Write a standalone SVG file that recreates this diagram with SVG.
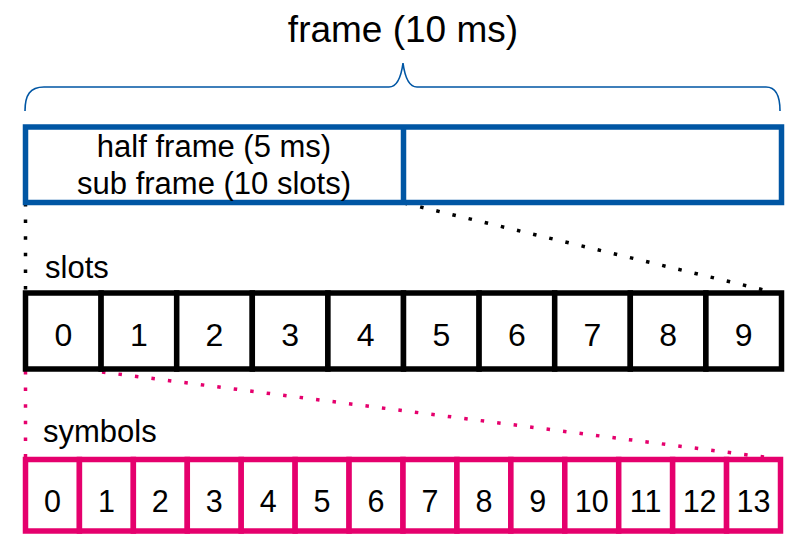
<svg xmlns="http://www.w3.org/2000/svg" width="795" height="536" viewBox="0 0 795 536">
  <style>
    text { font-family: "Liberation Sans", Arial, sans-serif; fill: #000; }
    .title { font-size: 37px; text-anchor: middle; }
    .lbl { font-size: 31px; }
    .mid { font-size: 31px; text-anchor: middle; }
    .slotnum { font-size: 32px; text-anchor: middle; }
    .symnum { font-size: 30.5px; text-anchor: middle; }
    .frame { fill: #fff; stroke: #0056A4; stroke-width: 5.5; }
    .slot { fill: #fff; stroke: #000; stroke-width: 5.5; }
    .sym { fill: #fff; stroke: #E5006D; stroke-width: 5.5; }
    .dotk { stroke: #000; stroke-width: 3.5; stroke-dasharray: 3.5 13.1; fill: none; }
    .dotp { stroke: #E5006D; stroke-width: 3.5; stroke-dasharray: 3.5 13.1; fill: none; }
  </style>

  <!-- frame title and brace -->
  <g id="frame-title">
    <text class="title" x="403" y="42">frame (10 ms)</text>
    <path d="M25,111 C25,95 30,87 44,87 L389,87 C397,87 401,78 403,63 C405,78 409,87 417,87 L766,87 C776,87 780,95 780,111" fill="none" stroke="#0056A4" stroke-width="1.6"/>
  </g>

  <!-- connectors between rows -->
  <g id="connectors">
    <line class="dotk" x1="25.5" y1="203" x2="25.5" y2="291"/>
    <line class="dotk" x1="404" y1="203" x2="764" y2="290"/>
    <line class="dotp" x1="25.5" y1="371" x2="25.5" y2="457"/>
    <line class="dotp" x1="102" y1="372" x2="764" y2="457"/>
  </g>

  <!-- frame split into two half frames -->
  <g id="frame">
    <rect class="frame" x="25.5" y="127" width="756" height="75.5"/>
    <line x1="403.5" y1="127" x2="403.5" y2="202.5" stroke="#0056A4" stroke-width="5.5"/>
    <text class="mid" x="214" y="157">half frame (5 ms)</text>
    <text class="mid" x="214" y="194">sub frame (10 slots)</text>
  </g>

  <!-- slots row -->
  <g id="slots">
    <text class="lbl" x="45" y="278">slots</text>
    <rect class="slot" x="25.5" y="293" width="75.6" height="76"/>
    <rect class="slot" x="101.1" y="293" width="75.6" height="76"/>
    <rect class="slot" x="176.7" y="293" width="75.6" height="76"/>
    <rect class="slot" x="252.3" y="293" width="75.6" height="76"/>
    <rect class="slot" x="327.9" y="293" width="75.6" height="76"/>
    <rect class="slot" x="403.5" y="293" width="75.6" height="76"/>
    <rect class="slot" x="479.1" y="293" width="75.6" height="76"/>
    <rect class="slot" x="554.7" y="293" width="75.6" height="76"/>
    <rect class="slot" x="630.3" y="293" width="75.6" height="76"/>
    <rect class="slot" x="705.9" y="293" width="75.6" height="76"/>
    <text class="slotnum" x="63.3" y="346">0</text>
    <text class="slotnum" x="138.9" y="346">1</text>
    <text class="slotnum" x="214.5" y="346">2</text>
    <text class="slotnum" x="290.1" y="346">3</text>
    <text class="slotnum" x="365.7" y="346">4</text>
    <text class="slotnum" x="441.3" y="346">5</text>
    <text class="slotnum" x="516.9" y="346">6</text>
    <text class="slotnum" x="592.5" y="346">7</text>
    <text class="slotnum" x="668.1" y="346">8</text>
    <text class="slotnum" x="743.7" y="346">9</text>
  </g>

  <!-- symbols row -->
  <g id="symbols">
    <text class="lbl" x="43" y="442">symbols</text>
    <rect class="sym" x="25.5" y="459.5" width="53.93" height="71.5"/>
    <rect class="sym" x="79.43" y="459.5" width="53.93" height="71.5"/>
    <rect class="sym" x="133.36" y="459.5" width="53.93" height="71.5"/>
    <rect class="sym" x="187.29" y="459.5" width="53.93" height="71.5"/>
    <rect class="sym" x="241.21" y="459.5" width="53.93" height="71.5"/>
    <rect class="sym" x="295.14" y="459.5" width="53.93" height="71.5"/>
    <rect class="sym" x="349.07" y="459.5" width="53.93" height="71.5"/>
    <rect class="sym" x="403" y="459.5" width="53.93" height="71.5"/>
    <rect class="sym" x="456.93" y="459.5" width="53.93" height="71.5"/>
    <rect class="sym" x="510.86" y="459.5" width="53.93" height="71.5"/>
    <rect class="sym" x="564.79" y="459.5" width="53.93" height="71.5"/>
    <rect class="sym" x="618.71" y="459.5" width="53.93" height="71.5"/>
    <rect class="sym" x="672.64" y="459.5" width="53.93" height="71.5"/>
    <rect class="sym" x="726.57" y="459.5" width="53.93" height="71.5"/>
    <text class="symnum" x="52.5" y="511.7">0</text>
    <text class="symnum" x="106.4" y="511.7">1</text>
    <text class="symnum" x="160.3" y="511.7">2</text>
    <text class="symnum" x="214.3" y="511.7">3</text>
    <text class="symnum" x="268.2" y="511.7">4</text>
    <text class="symnum" x="322.1" y="511.7">5</text>
    <text class="symnum" x="376" y="511.7">6</text>
    <text class="symnum" x="430" y="511.7">7</text>
    <text class="symnum" x="483.9" y="511.7">8</text>
    <text class="symnum" x="537.8" y="511.7">9</text>
    <text class="symnum" x="591.8" y="511.7">10</text>
    <text class="symnum" x="645.7" y="511.7">11</text>
    <text class="symnum" x="699.6" y="511.7">12</text>
    <text class="symnum" x="753.5" y="511.7">13</text>
  </g>
</svg>
